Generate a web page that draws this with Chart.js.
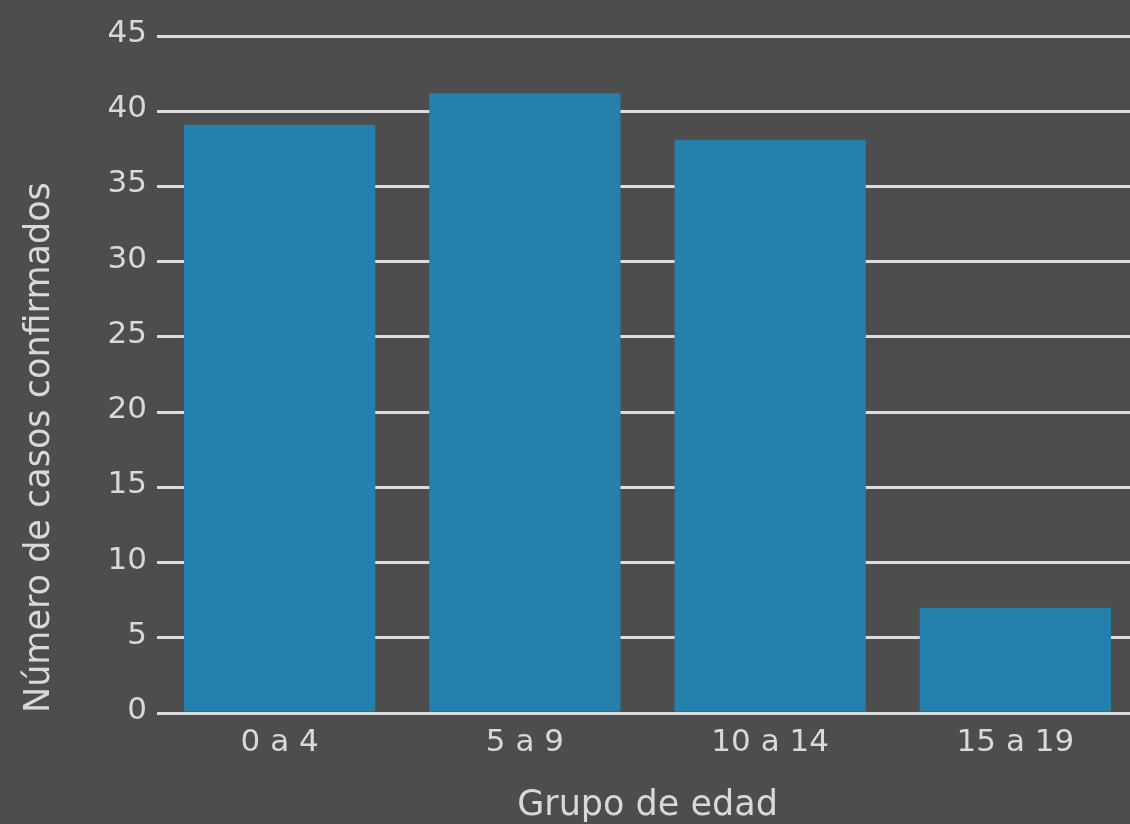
<!DOCTYPE html>
<html>
<head>
<meta charset="utf-8">
<script src="https://cdn.jsdelivr.net/npm/chart.js@4.4.0/dist/chart.umd.min.js"></script>
<style>
  html, body { margin: 0; padding: 0; background: #4d4d4d; overflow: hidden; }
  #wrap { width: 1138px; height: 824px; }
</style>
</head>
<body>
<div id="wrap"><canvas id="barChart" width="1138" height="824"></canvas></div>
<script>
// Data
const categories = ["0 a 4", "5 a 9", "10 a 14", "15 a 19"];
const casos = [39.1, 41.2, 38.1, 7];
const yTicks = [0, 5, 10, 15, 20, 25, 30, 35, 40, 45];

const textColor = "#d9d9d9";
const gridColor = "#dddddd";

function drawBarChart() {
  const ctx = document.getElementById("barChart").getContext("2d");

  new Chart(ctx, {
    type: "bar",
    data: {
      labels: categories,
      datasets: [
        {
          label: "Casos confirmados",
          data: casos,
          backgroundColor: "#2580ab",
          borderWidth: 0,
          barPercentage: 0.78,
          categoryPercentage: 1.0,
        },
      ],
    },
    options: {
      responsive: false,
      animation: false,
      layout: {
        padding: { top: 36, right: 0, bottom: 0, left: 0 },
      },
      plugins: {
        legend: { display: false },
        tooltip: { enabled: false },
      },
      scales: {
        x: {
          grid: { display: false, drawTicks: false },
          border: { display: false },
          ticks: {
            color: textColor,
            font: { family: "DejaVu Sans", size: 31 },
            padding: 11,
            maxRotation: 0,
          },
          title: {
            display: true,
            text: "Grupo de edad",
            color: textColor,
            font: { family: "DejaVu Sans", size: 35, lineHeight: 1 },
            padding: { top: 0, bottom: 1 },
          },
          afterFit: (scale) => { scale.height = 111; },
        },
        y: {
          min: 0,
          max: 45,
          afterBuildTicks: (scale) => {
            scale.ticks = yTicks.map(v => ({ value: v }));
          },
          grid: {
            color: gridColor,
            lineWidth: 3,
            drawTicks: false,
          },
          border: { display: false },
          ticks: {
            color: textColor,
            font: { family: "DejaVu Sans", size: 31 },
            padding: 10,
            labelOffset: -2,
          },
          title: {
            display: true,
            text: "Número de casos confirmados",
            color: textColor,
            align: "start",
            font: { family: "DejaVu Sans", size: 35, lineHeight: 1 },
            padding: { top: 22, bottom: 0 },
          },
          afterFit: (scale) => { scale.width = 157; },
        },
      },
    },
  });
}

drawBarChart();
</script>
</body>
</html>
